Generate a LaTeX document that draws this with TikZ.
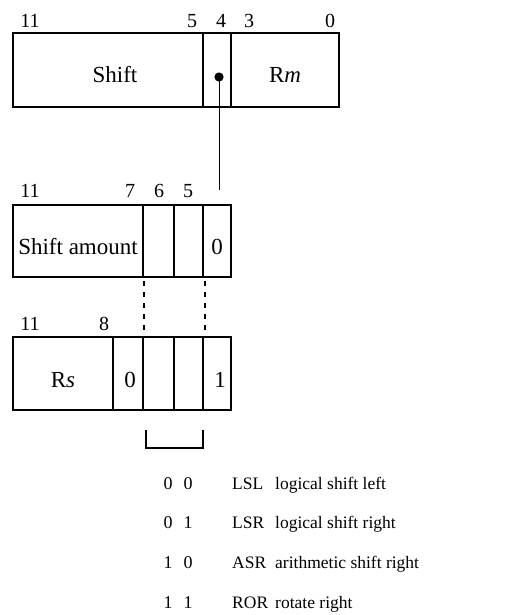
\documentclass[tikz,border=0pt]{standalone}
\usepackage{fontspec}
\setmainfont{Liberation Serif}
\begin{document}
\begin{tikzpicture}[x=1pt,y=-1pt,
  boxline/.style={line width=1.8pt},
  bitlbl/.style={anchor=base,inner sep=0pt,font=\fontsize{20}{20}\selectfont},
  fieldtxt/.style={anchor=base,inner sep=0pt,font=\fontsize{23}{23}\selectfont},
  tabtxt/.style={anchor=base west,inner sep=0pt,font=\fontsize{17.5}{17.5}\selectfont},
  tabdig/.style={anchor=base,inner sep=0pt,font=\fontsize{18}{18}\selectfont},
  dotline/.style={line width=2pt,dash pattern=on 5pt off 6pt},
  thinline/.style={line width=1pt}]
\useasboundingbox (0,0) rectangle (523,615);

% ---- top box ----
\draw[boxline] (13,33) rectangle (339,107);
\draw[boxline] (203,33) -- (203,107);
\draw[boxline] (231,33) -- (231,107);
\node[bitlbl] (t11) at (30,28) {11};
\node[bitlbl] (t5) at (192,28) {5};
\node[bitlbl] (t4) at (221,28) {4};
\node[bitlbl] (t3) at (249,28) {3};
\node[bitlbl] (t0) at (330,28) {0};
\node[fieldtxt] (shift) at (115,83) {Shift};
\node[fieldtxt] (rm) at (285,83) {R\textit{m}};
\fill (219,77) circle (4.6pt);
\coordinate (bit4) at (219,77);
\coordinate (bit4end) at (219,190);
\draw[thinline] (bit4) -- (bit4end);

% ---- second box ----
\draw[boxline] (13,205) rectangle (231,277);
\draw[boxline] (143,205) -- (143,277);
\draw[boxline] (174,205) -- (174,277);
\draw[boxline] (203,205) -- (203,277);
\node[bitlbl] (m11) at (30,197) {11};
\node[bitlbl] (m7) at (130,197) {7};
\node[bitlbl] (m6) at (159,197) {6};
\node[bitlbl] (m5) at (188,197) {5};
\node[fieldtxt] (samt) at (78,254) {Shift amount};
\node[fieldtxt] (mz) at (217,254) {0};

% ---- dotted links ----
\coordinate (d1a) at (144,281);
\coordinate (d1b) at (144,336);
\coordinate (d2a) at (205,281);
\coordinate (d2b) at (205,336);
\draw[dotline] (d1a) -- (d1b);
\draw[dotline] (d2a) -- (d2b);

% ---- third box ----
\draw[boxline] (13,337) rectangle (231,410);
\draw[boxline] (113,337) -- (113,410);
\draw[boxline] (143,337) -- (143,410);
\draw[boxline] (174,337) -- (174,410);
\draw[boxline] (203,337) -- (203,410);
\node[bitlbl] (b11) at (30,330) {11};
\node[bitlbl] (b8) at (104,330) {8};
\node[fieldtxt] (rs) at (63,387) {R\textit{s}};
\node[fieldtxt] (bz) at (130,387) {0};
\node[fieldtxt] (bo) at (220,387) {1};

% ---- bracket ----
\draw[line width=1.2pt] (146,430) -- (146,448) -- (203,448) -- (203,430);

% ---- table ----
\node[tabdig] at (168,489) {0};
\node[tabdig] at (188,489) {0};
\node[tabtxt] at (232,489) {LSL};
\node[tabtxt] at (275,489) {logical shift left};
\node[tabdig] at (168,528) {0};
\node[tabdig] at (188,528) {1};
\node[tabtxt] at (232,528) {LSR};
\node[tabtxt] at (275,528) {logical shift right};
\node[tabdig] at (168,568) {1};
\node[tabdig] at (188,568) {0};
\node[tabtxt] at (232,568) {ASR};
\node[tabtxt] at (275,568) {arithmetic shift right};
\node[tabdig] at (168,608) {1};
\node[tabdig] at (188,608) {1};
\node[tabtxt] at (232,608) {ROR};
\node[tabtxt] at (275,608) {rotate right};
\end{tikzpicture}
\end{document}
